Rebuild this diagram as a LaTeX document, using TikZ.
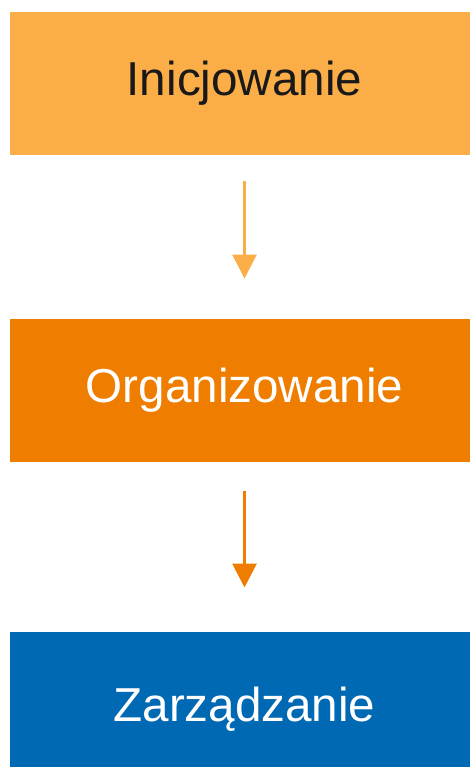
\documentclass[tikz,border=0pt]{standalone}
\usepackage{fontspec}
\setmainfont{Liberation Sans}
\usetikzlibrary{arrows.meta}
\definecolor{lightorange}{HTML}{FBAD48}
\definecolor{darkorange}{HTML}{EF7D00}
\definecolor{stepblue}{HTML}{0069B4}
\tikzset{every picture/.style={line width=0.75pt}}
\tikzset{
  stagebox/.style={rectangle, minimum width=351.75pt, minimum height=107.25pt, inner sep=0pt, font=\fontsize{35.7}{40}\selectfont},
  flowarrow/.style={line width=2.25pt, -{Triangle[length=18pt,width=18pt]}}
}
\begin{document}
\begin{tikzpicture}[x=0.75pt,y=0.75pt,yscale=-1,xscale=1]
\useasboundingbox (0,0) rectangle (470,767);
\clip (0,0) rectangle (470,767);
% stages
\node [stagebox, fill=lightorange, text=black!90] (init) at (244.5,83.5) {Inicjowanie};
\node [stagebox, fill=darkorange, text=white] (org) at (244.5,390.5) {Organizowanie};
\node [stagebox, fill=stepblue, text=white, minimum height=116.25pt] (mgmt) at (244.5,709.5) {Zarządzanie};
% arrows
\draw [flowarrow, draw=lightorange, fill=lightorange, shorten <=18.75pt, shorten >=30pt] (init.south) -- (org.north);
\draw [flowarrow, draw=darkorange, fill=darkorange, shorten <=21pt, shorten >=33pt] (org.south) -- (mgmt.north);
\end{tikzpicture}
\end{document}
